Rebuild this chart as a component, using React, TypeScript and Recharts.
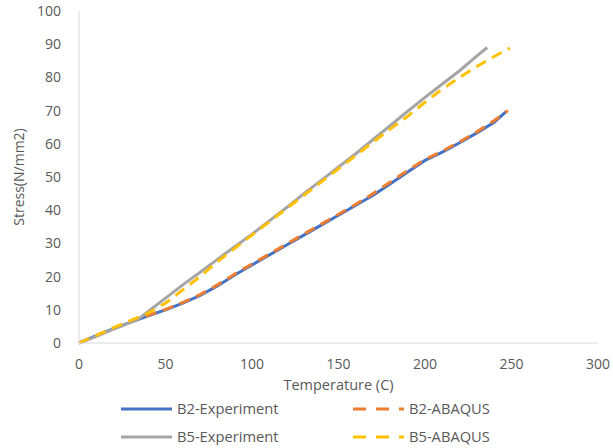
import React from "react";
import { LineChart, Line, XAxis, YAxis, Legend } from "recharts";

// Temperature (C) / Stress (N/mm2) readings per series
const b2ExpTemp = [0, 10, 20, 30, 40, 50, 60, 70, 80, 90, 100, 110, 120, 130, 140, 150, 160, 170, 180, 190, 200, 210, 220, 230, 240, 247];
const b2ExpStress = [0, 2.2, 4.3, 6.3, 8.2, 10, 12, 14.3, 17.2, 20.5, 23.5, 26.5, 29.5, 32.5, 35.5, 38.5, 41.5, 44.5, 48, 51.5, 55, 57.5, 60.3, 63.3, 66.5, 69.8];

const b2AbqTemp = [0, 10, 20, 30, 40, 50, 60, 70, 80, 90, 100, 110, 120, 130, 140, 150, 160, 170, 180, 190, 200, 210, 220, 230, 240, 248];
const b2AbqStress = [0, 2.3, 4.4, 6.4, 8.3, 10.1, 12.2, 14.6, 17.5, 20.8, 23.8, 26.8, 29.8, 32.8, 35.8, 38.8, 41.8, 45, 48.5, 52, 55.3, 57.8, 60.6, 63.6, 67, 70];

const b5ExpTemp = [0, 10, 20, 30, 35, 40, 50, 60, 70, 80, 90, 100, 110, 120, 130, 140, 150, 160, 170, 180, 190, 200, 210, 220, 230, 236];
const b5ExpStress = [0, 2, 4.2, 6.3, 7.5, 9.5, 13.5, 17.5, 21.3, 25.2, 29, 32.8, 36.8, 40.8, 45, 49, 53, 57, 61.3, 65.5, 69.8, 74, 78, 82, 86.5, 89];

const b5AbqTemp = [0, 10, 20, 30, 40, 50, 60, 70, 80, 90, 100, 110, 120, 130, 140, 150, 160, 170, 180, 190, 200, 210, 220, 230, 240, 249];
const b5AbqStress = [0, 2.3, 4.6, 6.8, 9, 12, 16, 20, 24.5, 28.5, 32.5, 36.5, 40.5, 44.5, 48.5, 52.5, 56.5, 60.5, 64.5, 68.3, 72.5, 76.5, 80, 83.3, 86.3, 88.8];

const xTicks = [0, 50, 100, 150, 200, 250, 300];
const yTicks = [0, 10, 20, 30, 40, 50, 60, 70, 80, 90, 100];

const toPoints = (xs: number[], ys: number[]) => xs.map((x, i) => ({ x, y: ys[i] }));

const series = [
  { name: "B2-Experiment", data: toPoints(b2ExpTemp, b2ExpStress), color: "#4472C4", dash: undefined },
  { name: "B2-ABAQUS", data: toPoints(b2AbqTemp, b2AbqStress), color: "#ED7D31", dash: "11 7" },
  { name: "B5-Experiment", data: toPoints(b5ExpTemp, b5ExpStress), color: "#A5A5A5", dash: undefined },
  { name: "B5-ABAQUS", data: toPoints(b5AbqTemp, b5AbqStress), color: "#FFC000", dash: "11 7" },
];

const FONT = "'Open Sans', 'DejaVu Sans', sans-serif";
const TEXT = "#595959";

const LegendBox = () => (
  <svg width={613} height={50}>
    {series.map((s, i) => {
      const col = i % 2;
      const row = Math.floor(i / 2);
      const x0 = col === 0 ? 121 : 353;
      const y = row === 0 ? 14 : 42;
      return (
        <g key={s.name}>
          <line
            x1={x0}
            x2={x0 + 51}
            y1={y}
            y2={y}
            stroke={s.color}
            strokeWidth={3}
            strokeDasharray={s.dash ? "13 10" : undefined}
          />
          <text x={x0 + 56} y={y} dy="0.35em" fontSize={14.7} fill={TEXT} fontFamily={FONT}>
            {s.name}
          </text>
        </g>
      );
    })}
  </svg>
);

export default function App() {
  return (
    <div style={{ position: "absolute", left: 0, top: 0, width: 613, height: 448, background: "#fff" }}>
      <LineChart width={613} height={448} margin={{ top: 11, right: 15, bottom: 5, left: 0 }}>
        <XAxis
          type="number"
          dataKey="x"
          domain={[0, 300]}
          ticks={xTicks}
          axisLine={{ stroke: "#D9D9D9" }}
          tickLine={false}
          tick={{ fill: TEXT, fontSize: 14, fontFamily: FONT }}
          tickMargin={10}
          height={50}
          label={{ value: "Temperature (C)", position: "insideBottom", offset: 3, fill: TEXT, fontSize: 14.5, fontFamily: FONT }}
        />
        <YAxis
          type="number"
          dataKey="y"
          domain={[0, 100]}
          ticks={yTicks}
          width={79}
          axisLine={{ stroke: "#D9D9D9" }}
          tickLine={false}
          tick={{ fill: TEXT, fontSize: 14, fontFamily: FONT }}
          tickMargin={12}
          label={{ value: "Stress(N/mm2)", angle: -90, position: "insideLeft", offset: 19, fill: TEXT, fontSize: 14, fontFamily: FONT, style: { textAnchor: "middle" } }}
        />
        {series.map((s) => (
          <Line
            key={s.name}
            name={s.name}
            data={s.data}
            dataKey="y"
            type="linear"
            stroke={s.color}
            strokeWidth={3}
            strokeDasharray={s.dash}
            dot={false}
            activeDot={false}
            isAnimationActive={false}
          />
        ))}
        <Legend
          verticalAlign="bottom"
          content={() => <LegendBox />}
          wrapperStyle={{ position: "absolute", left: 0, top: 395, width: 613, height: 50 }}
        />
      </LineChart>
    </div>
  );
}
